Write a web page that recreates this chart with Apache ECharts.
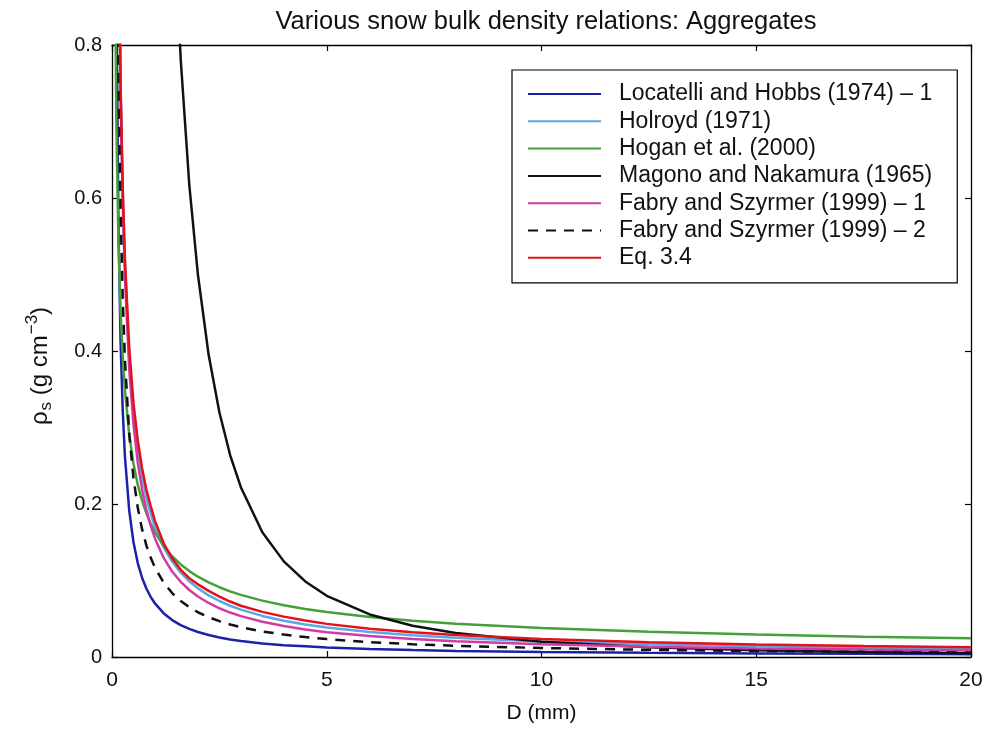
<!DOCTYPE html>
<html>
<head>
<meta charset="utf-8">
<script src="https://cdn.jsdelivr.net/npm/echarts@6/dist/echarts.min.js"></script>
<style>html,body{margin:0;padding:0;background:#fff;}#c{width:994px;height:731px;}</style>
</head>
<body>
<div id="c"></div>
<script>
// Diameter grid D (mm)
const dGrid = [0.05, 0.1, 0.15, 0.2, 0.25, 0.3, 0.4, 0.5, 0.6, 0.7, 0.8, 0.9, 1, 1.2, 1.4, 1.6, 1.8, 2, 2.25, 2.5, 2.75, 3, 3.5, 4, 4.5, 5, 6, 7, 8, 10, 12.5, 15, 17.5, 20];

// Bulk density rho_s (g cm^-3)
const locatelliHobbs = [1.889, 0.881, 0.564, 0.411, 0.322, 0.263, 0.192, 0.150, 0.1228, 0.1036, 0.0895, 0.0786, 0.070, 0.0573, 0.0483, 0.0417, 0.0367, 0.0327, 0.0287, 0.0255, 0.0230, 0.0209, 0.0176, 0.0155, 0.014, 0.0125, 0.0105, 0.009, 0.008, 0.0065, 0.0055, 0.0047, 0.0041, 0.0037];
const holroyd = [2.676, 1.414, 0.974, 0.747, 0.609, 0.515, 0.395, 0.322, 0.272, 0.236, 0.209, 0.1873, 0.170, 0.1438, 0.1247, 0.1103, 0.0990, 0.0898, 0.0806, 0.0732, 0.0670, 0.0619, 0.0537, 0.0475, 0.0426, 0.0387, 0.0327, 0.0284, 0.0251, 0.0204, 0.0166, 0.0141, 0.0122, 0.0108];
const hogan = [1.089, 0.702, 0.543, 0.452, 0.3926, 0.350, 0.291, 0.253, 0.225, 0.2044, 0.188, 0.1743, 0.163, 0.1452, 0.1317, 0.1210, 0.1123, 0.1050, 0.0975, 0.0912, 0.0858, 0.0812, 0.0737, 0.0677, 0.0628, 0.0587, 0.0523, 0.0475, 0.0436, 0.0379, 0.0329, 0.0293, 0.0266, 0.0244];
const magonoNakamura = [null, null, null, null, null, null, null, null, null, null, null, null, null, 1.389, 1.02, 0.781, 0.617, 0.5, 0.395, 0.32, 0.264, 0.222, 0.163, 0.125, 0.0988, 0.08, 0.0556, 0.0408, 0.0313, 0.02, 0.0128, 0.0089, 0.0065, 0.005];
const fabry1 = [2.83, 1.446, 0.976, 0.738, 0.595, 0.498, 0.377, 0.304, 0.254, 0.2191, 0.1924, 0.1717, 0.155, 0.1299, 0.1118, 0.0983, 0.0876, 0.0791, 0.0706, 0.0637, 0.0581, 0.0534, 0.0460, 0.0404, 0.0360, 0.0325, 0.0273, 0.0235, 0.0206, 0.0166, 0.0134, 0.0112, 0.0097, 0.0085];
const fabry2 = [2.34, 1.17, 0.78, 0.585, 0.468, 0.39, 0.2925, 0.234, 0.195, 0.1671, 0.146, 0.130, 0.117, 0.0975, 0.0836, 0.0731, 0.065, 0.0585, 0.052, 0.0468, 0.0425, 0.039, 0.0334, 0.0293, 0.026, 0.0234, 0.0195, 0.0167, 0.0146, 0.0117, 0.0094, 0.0078, 0.0067, 0.0059];
const eq34 = [2.55, 1.381, 0.965, 0.748, 0.614, 0.522, 0.405, 0.332, 0.283, 0.2468, 0.219, 0.1976, 0.178, 0.149, 0.129, 0.114, 0.103, 0.095, 0.0865, 0.079, 0.0725, 0.067, 0.059, 0.0528, 0.0476, 0.0433, 0.0369, 0.0322, 0.0286, 0.0235, 0.0193, 0.0164, 0.0143, 0.0127];

const seriesNames = ['Locatelli and Hobbs (1974) \u2013 1', 'Holroyd (1971)', 'Hogan et al. (2000)', 'Magono and Nakamura (1965)', 'Fabry and Szyrmer (1999) \u2013 1', 'Fabry and Szyrmer (1999) \u2013 2', 'Eq. 3.4'];
const seriesData = [locatelliHobbs, holroyd, hogan, magonoNakamura, fabry1, fabry2, eq34];
const seriesColors = ['#1c22a8', '#5aa8e6', '#45a03a', '#111111', '#d23aa5', '#111111', '#e2121c'];
const seriesDash = ['solid', 'solid', 'solid', 'solid', 'solid', [10, 8], 'solid'];

const xTicks = [0, 5, 10, 15, 20];
const yTicks = [0, 0.2, 0.4, 0.6, 0.8];

const FONT = 'Liberation Sans';
const chart = echarts.init(document.getElementById('c'));

function pairs(d) { return dGrid.map((x, i) => [x, d[i]]); }

const baseX = {
  type: 'value', min: xTicks[0], max: xTicks[xTicks.length - 1], interval: 5,
  splitLine: { show: false },
  axisLine: { show: true, onZero: false, lineStyle: { color: '#000', width: 1.3 } },
  axisTick: { show: true, inside: true, length: 6, lineStyle: { color: '#000', width: 1.2 } }
};
const baseY = {
  type: 'value', min: yTicks[0], max: yTicks[yTicks.length - 1], interval: 0.2,
  splitLine: { show: false },
  axisLine: { show: true, onZero: false, lineStyle: { color: '#000', width: 1.3 } },
  axisTick: { show: true, inside: true, length: 6, lineStyle: { color: '#000', width: 1.2 } }
};

chart.setOption({
  animation: false,
  backgroundColor: '#fff',
  title: {
    text: 'Various snow bulk density relations: Aggregates',
    left: 541, top: 4, textAlign: 'center',
    textStyle: { fontFamily: FONT, fontSize: 25.5, fontWeight: 'normal', color: '#111' }
  },
  grid: { left: 112, right: 23, top: 45, bottom: 74 },
  legend: {
    orient: 'vertical', left: 512, top: 70,
    data: seriesNames,
    itemWidth: 73, itemHeight: 14, itemGap: 3.3,
    padding: [12, 25, 13, 15],
    borderColor: '#000', borderWidth: 1.2,
    backgroundColor: '#fff',
    itemStyle: { opacity: 0 },
    textStyle: { fontFamily: FONT, fontSize: 23, lineHeight: 24, color: '#111', padding: [0, 0, 0, 13] }
  },
  xAxis: [
    Object.assign({}, baseX, {
      position: 'bottom',
      name: 'D (mm)', nameLocation: 'middle', nameGap: 46,
      nameTextStyle: { fontFamily: FONT, fontSize: 21, color: '#111' },
      axisLabel: { fontFamily: FONT, fontSize: 21, color: '#111', margin: 13,
        formatter: v => String(v) }
    }),
    Object.assign({}, baseX, { position: 'top', axisLabel: { show: false } })
  ],
  yAxis: [
    Object.assign({}, baseY, {
      position: 'left',
      name: '{a|\u03c1}{s|s}{a| (g cm}{p|\u22123}{a|)}', nameLocation: 'middle', nameGap: 56,
      nameTextStyle: {
        fontFamily: FONT, fontSize: 24, color: '#111', padding: [0, 30, 0, 0],
        rich: {
          a: { fontFamily: FONT, fontSize: 24, color: '#111' },
          s: { fontFamily: FONT, fontSize: 17, color: '#111', padding: [13, 0, 0, 1] },
          p: { fontFamily: FONT, fontSize: 17, color: '#111', padding: [0, 0, 15, 1] }
        }
      },
      axisLabel: { fontFamily: FONT, fontSize: 20, color: '#111', margin: 10,
        formatter: v => (v === 0 ? '0' : v.toFixed(1)) }
    }),
    Object.assign({}, baseY, { position: 'right', axisLabel: { show: false } })
  ],
  series: seriesNames.map((n, i) => ({
    name: n, type: 'line', xAxisIndex: 0, yAxisIndex: 0,
    data: pairs(seriesData[i]),
    symbol: 'none', smooth: false, clip: true,
    connectNulls: false,
    lineStyle: { color: seriesColors[i], width: 2.5, type: seriesDash[i] },
    itemStyle: { color: seriesColors[i] }
  }))
});
</script>
</body>
</html>
